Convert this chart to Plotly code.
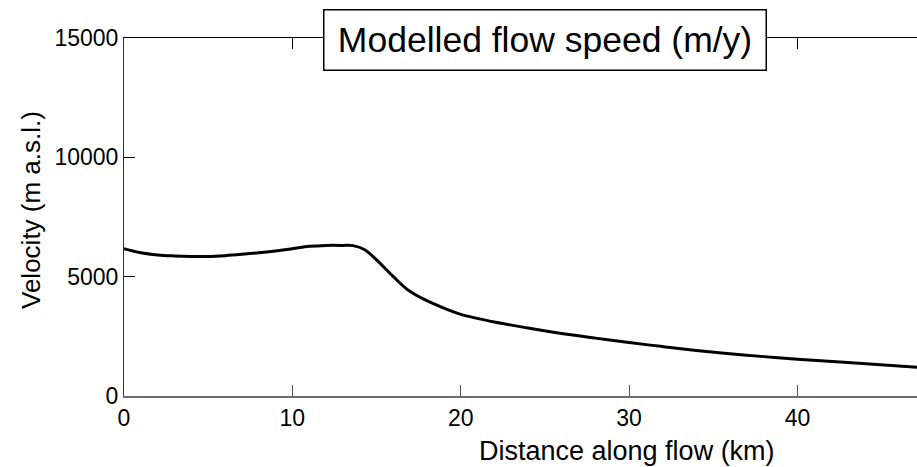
import plotly.graph_objects as go

# Data
distance_km = [0, 1, 2, 3, 4, 5, 6, 7, 8, 9, 10, 11, 12, 13, 13.6, 14.3, 15, 16, 16.8,
               17.5, 18.35, 19.25, 20, 22, 24, 26, 28, 30, 32, 34, 36, 38, 40, 43, 47.1]
velocity = [6170, 6000, 5910, 5870, 5850, 5845, 5880, 5935, 6000, 6080, 6170, 6270, 6310,
            6310, 6300, 6130, 5700, 5000, 4480, 4170, 3880, 3610, 3420, 3100, 2850, 2620,
            2425, 2240, 2070, 1910, 1770, 1650, 1540, 1400, 1200]

x_ticks = [0, 10, 20, 30, 40]
y_ticks = [0, 5000, 10000, 15000]
y_tick_labels = ["0", "5000", "10000", "15000"]

title_text = "Modelled flow speed (m/y)"
x_title = "Distance along flow (km)"
y_title = "Velocity (m a.s.l.)"

FONT = "Liberation Sans, Arial, sans-serif"
W, H = 917, 467
# plot area in window pixels: left 124, right 917, top 38, bottom 396
L, T, R = 124, 38, 0
B = H - 396

def px_to_paper_x(px):
    return (px - L) / (W - L - R)

def px_to_paper_y(py):
    return (H - B - py) / (H - B - T)

fig = go.Figure()
fig.add_trace(go.Scatter(x=distance_km, y=velocity, mode="lines",
                         line=dict(color="black", width=3, shape="spline", smoothing=1.0),
                         showlegend=False, hoverinfo="skip"))
# invisible trace on top axis so the mirrored ticks show
fig.add_trace(go.Scatter(x=[0], y=[0], xaxis="x2", mode="markers",
                         marker=dict(opacity=0), showlegend=False, hoverinfo="skip"))

fig.update_layout(
    width=W, height=H,
    margin=dict(l=L, r=R, t=T, b=B),
    paper_bgcolor="white", plot_bgcolor="white",
    font=dict(family=FONT, color="black"),
    xaxis=dict(range=[0, 47.1], tickvals=x_ticks, ticks="inside", ticklen=11,
               tickcolor="#555555", tickwidth=1,
               showline=True, linecolor="#6e6e6e", linewidth=2, showgrid=False,
               zeroline=False, tickfont=dict(size=23, family=FONT, color="black")),
    xaxis2=dict(range=[0, 47.1], overlaying="x", side="top", tickvals=x_ticks,
                ticks="inside", ticklen=11, tickcolor="black", showline=True,
                linecolor="black", linewidth=1, showticklabels=False, showgrid=False,
                zeroline=False),
    yaxis=dict(range=[0, 15000], tickvals=y_ticks, ticktext=y_tick_labels,
               ticks="inside", ticklen=11, tickcolor="black", showline=True,
               linecolor="#333333", linewidth=1, showgrid=False, zeroline=False,
               tickfont=dict(size=23, family=FONT, color="black")),
    annotations=[
        dict(text=title_text, xref="paper", yref="paper",
             x=px_to_paper_x(545), y=px_to_paper_y(40), xanchor="center", yanchor="middle",
             showarrow=False, font=dict(size=35.5, family=FONT, color="black"),
             bgcolor="white", bordercolor="black", borderwidth=1.5,
             width=441, height=59, borderpad=0),
        dict(text=x_title, xref="paper", yref="paper",
             x=px_to_paper_x(627), y=px_to_paper_y(451), xanchor="center", yanchor="middle",
             showarrow=False, font=dict(size=27, family=FONT, color="black")),
        dict(text=y_title, xref="paper", yref="paper", textangle=-90,
             x=px_to_paper_x(31), y=px_to_paper_y(210), xanchor="center", yanchor="middle",
             showarrow=False, font=dict(size=26, family=FONT, color="black")),
    ],
)

fig.write_html(
    "out.html",
    config={"displayModeBar": False},
    post_script="document.body.style.margin='0';document.body.style.overflow='hidden';",
)
